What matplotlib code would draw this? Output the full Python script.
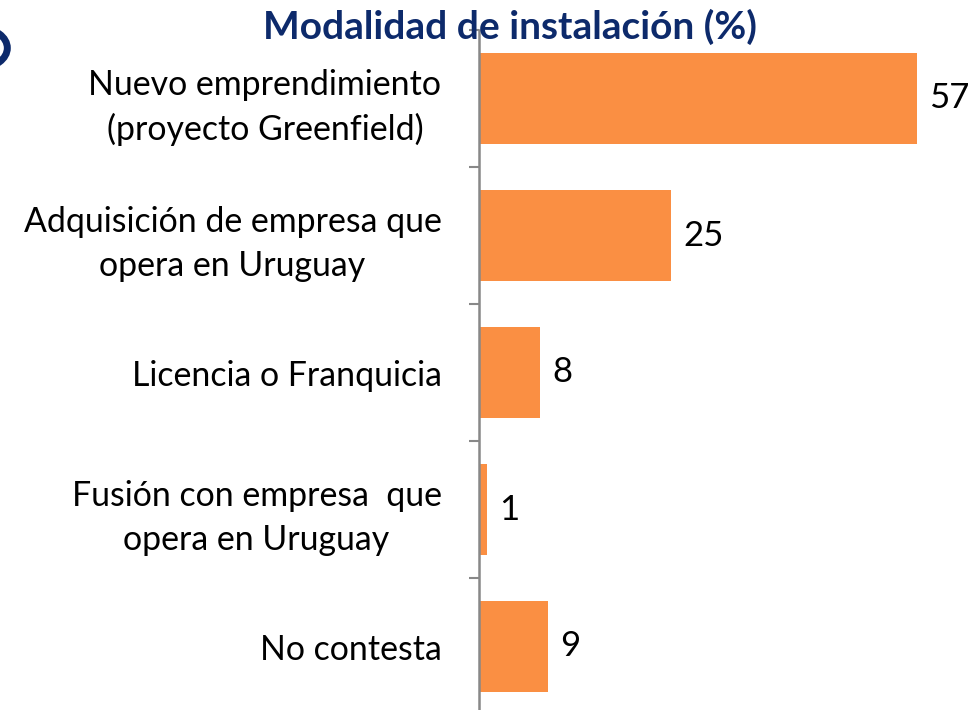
import matplotlib
matplotlib.use('Agg')
import matplotlib.pyplot as plt
from matplotlib.patches import Circle

plt.rcParams['font.family'] = ['Lato', 'DejaVu Sans']

categorias = ['Nuevo emprendimiento\n(proyecto Greenfield)',
              'Adquisición de empresa que\nopera en Uruguay',
              'Licencia o Franquicia',
              'Fusión con empresa  que\nopera en Uruguay',
              'No contesta']
valores = [57, 25, 8, 1, 9]

fig = plt.figure(figsize=(9.76, 7.10), dpi=100)
# axes: left edge at the axis line, bottom runs slightly past the picture
ax = fig.add_axes([479/976, -5/710, 497/976, 685/710])

pos = list(range(len(categorias)))
ax.barh(pos, valores, height=0.66, color='#FA8F43')
ax.set_ylim(4.5, -0.5)
ax.set_xlim(0, 497/7.684)

for p, v in zip(pos, valores):
    ax.text(v + 1.6, p, str(v), va='center', ha='left', fontsize=25)

ax.set_yticks(pos)
ax.set_yticklabels(categorias, fontsize=24.4)
for lbl in ax.get_yticklabels():
    lbl.set_multialignment('center')
    lbl.set_linespacing(1.45)
ax.tick_params(axis='y', which='major', length=0, pad=27)
ax.set_yticks([-0.5, 0.5, 1.5, 2.5, 3.5, 4.5], minor=True)
ax.tick_params(axis='y', which='minor', length=7, width=1.5, color='#888888', direction='out')
ax.set_xticks([])
for s in ['top', 'right', 'bottom']:
    ax.spines[s].set_visible(False)
ax.spines['left'].set_color('#888888')
ax.spines['left'].set_linewidth(1.8)

fig.text(510/976, 1 - 27/710, 'Modalidad de instalación (%)', ha='center', va='center',
         fontsize=28, fontweight='bold', color='#0D2A6B')

# cropped round badge at the left edge
fig.patches.append(Circle((-20/976, 1 - 48/710), 0.028, transform=fig.transFigure,
                          facecolor='none', edgecolor='#0D2A6B', linewidth=5))

fig.savefig('out.png', dpi=100)
